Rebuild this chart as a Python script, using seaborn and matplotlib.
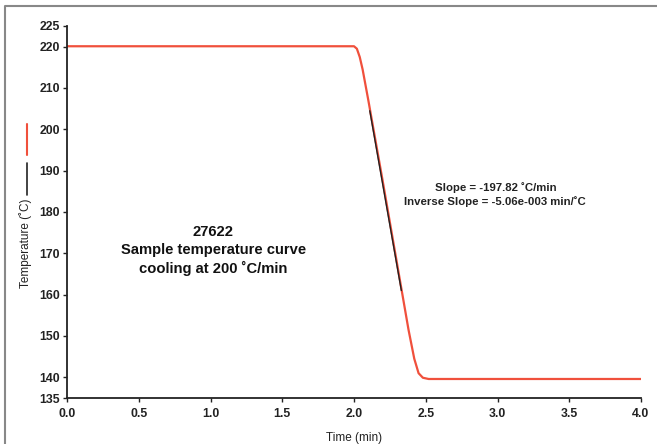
import matplotlib
matplotlib.use("Agg")
import matplotlib.pyplot as plt
import seaborn as sns
import pandas as pd
from matplotlib.lines import Line2D

# sample temperature curve
time_min = [0.0, 2.00, 2.02, 2.04, 2.06, 2.10, 2.20, 2.30, 2.38, 2.42, 2.45, 2.48, 2.52, 4.0]
temp_c = [220.1, 220.1, 219.5, 217.5, 214.5, 207.0, 187.5, 167.5, 151.5, 144.5, 141.0, 139.9, 139.6, 139.6]

# linear fit segment
fit_time = [2.11, 2.33]
fit_temp = [204.5, 161.0]

x_ticks = [0.0, 0.5, 1.0, 1.5, 2.0, 2.5, 3.0, 3.5, 4.0]
y_ticks = [135, 140, 150, 160, 170, 180, 190, 200, 210, 220, 225]

sns.set_style("ticks")
plt.rcParams["font.family"] = ["Liberation Sans", "DejaVu Sans"]

W, H = 657, 444
fig = plt.figure(figsize=(W / 100, H / 100), dpi=100)
ax = fig.add_axes([67 / W, 1 - 398 / H, (641 - 67) / W, (398 - 26) / H])

curve = pd.DataFrame({"time": time_min, "temp": temp_c})
fit = pd.DataFrame({"time": fit_time, "temp": fit_temp})
sns.lineplot(data=curve, x="time", y="temp", ax=ax, color="#f0503c", lw=1.6)
sns.lineplot(data=fit, x="time", y="temp", ax=ax, color="#222222", lw=1.0)

ax.set_xlim(0, 4.0)
ax.set_ylim(135, 225)
ax.set_xticks(x_ticks)
ax.set_xticklabels([f"{v:.1f}" for v in x_ticks])
ax.set_yticks(y_ticks)
ax.tick_params(labelsize=8.8, length=3, width=1, color="#222222", pad=2)
ax.tick_params(axis="x", pad=4)
for lab in ax.get_xticklabels() + ax.get_yticklabels():
    lab.set_fontweight("bold")
    lab.set_color("#222222")
for s in ["left", "bottom"]:
    ax.spines[s].set_linewidth(1.3)
    ax.spines[s].set_color("#222222")
sns.despine(ax=ax)

ax.set_xlabel("Time (min)", fontsize=8.5, color="#222222", labelpad=9)
ax.set_ylabel("")

# y label with legend marks, like the original
fig.text(26 / W, 1 - 243 / H, "Temperature (˚C)", rotation=90, fontsize=8.5,
         color="#222222", ha="center", va="center")
fig.add_artist(Line2D([27 / W, 27 / W], [1 - 124 / H, 1 - 155 / H],
                      transform=fig.transFigure, color="#f0503c", lw=1.5))
fig.add_artist(Line2D([27 / W, 27 / W], [1 - 163 / H, 1 - 195 / H],
                      transform=fig.transFigure, color="#222222", lw=1.2))

ax.text(1.02, 170.6, "27622\nSample temperature curve\ncooling at 200 ˚C/min",
        ha="center", va="center", fontsize=10.6, fontweight="bold", color="#111111",
        linespacing=1.35)
ax.text(2.985, 184.2, "Slope = -197.82 ˚C/min\nInverse Slope = -5.06e-003 min/˚C",
        ha="center", va="center", fontsize=8.2, fontweight="bold", color="#222222",
        linespacing=1.3)

# grey frame on top and left
fig.add_artist(Line2D([5 / W, 5 / W, 1.0], [0.0, 1 - 6 / H, 1 - 6 / H],
                      transform=fig.transFigure, color="#888888", lw=1.5))

fig.savefig("out.png", dpi=100)
